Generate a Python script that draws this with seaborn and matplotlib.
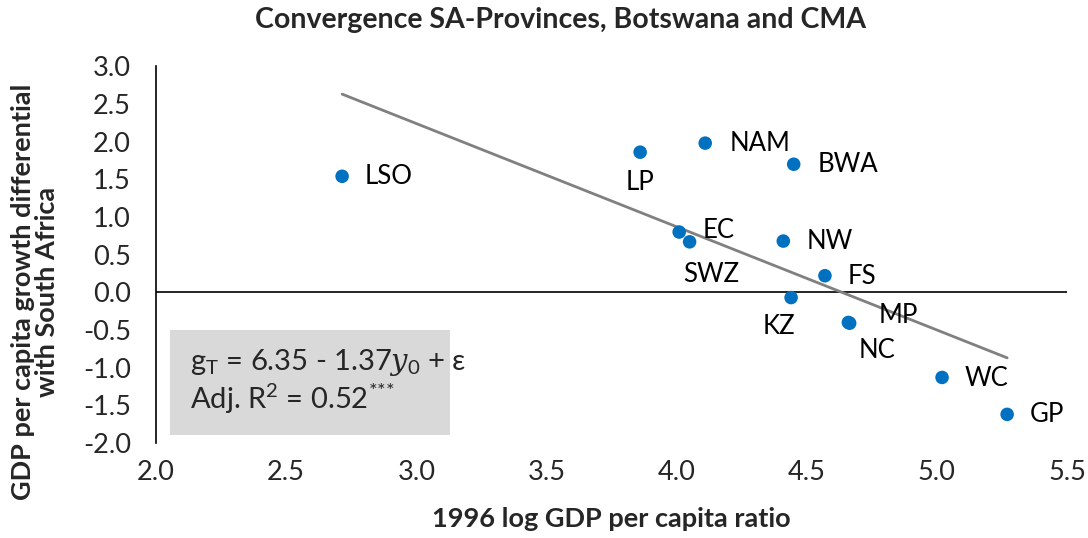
import matplotlib
matplotlib.use("Agg")
import matplotlib.pyplot as plt
import seaborn as sns
import numpy as np
import pandas as pd

# --- Data ---
regions = ["LSO", "LP", "NAM", "BWA", "EC", "SWZ", "NW", "FS", "KZ", "NC", "MP", "WC", "GP"]
log_gdp_1996 = [2.715, 3.86, 4.11, 4.45, 4.01, 4.05, 4.41, 4.57, 4.44, 4.66, 4.665, 5.02, 5.27]
growth_diff = [1.54, 1.86, 1.98, 1.70, 0.80, 0.67, 0.68, 0.22, -0.07, -0.40, -0.41, -1.13, -1.62]

# label offsets in pixels (dx, dy), ha
label_pos = {
    "LSO": (23, 0, "left"), "LP": (0, -30, "center"), "NAM": (24, 0, "left"),
    "BWA": (24, 0, "left"), "EC": (23, 2, "left"), "SWZ": (22, -33, "center"),
    "NW": (23, 0, "left"), "FS": (23, -1, "left"), "KZ": (-12, -29, "center"),
    "NC": (29, -28, "center"), "MP": (29, 8, "left"), "WC": (23, -1, "left"),
    "GP": (23, 0, "left"),
}

intercept = 6.35
slope = -1.37

df = pd.DataFrame({"region": regions, "x": log_gdp_1996, "y": growth_diff})

sns.set_style("white")
plt.rcParams["font.family"] = ["Lato", "DejaVu Sans"]
plt.rcParams["mathtext.fontset"] = "custom"
plt.rcParams["mathtext.rm"] = "Lato"
plt.rcParams["mathtext.it"] = "DejaVu Serif:italic"

fig = plt.figure(figsize=(10.88, 5.38), dpi=100)
ax = fig.add_axes([0.1434, 0.1766, 0.8373, 0.7002])

# --- Trend line ---
xs = np.array([df["x"].min(), df["x"].max()])
ax.plot(xs, intercept + slope * xs, color="#808080", lw=2, zorder=2)

sns.scatterplot(data=df, x="x", y="y", color="#0070C0", s=95, edgecolor="none", ax=ax, zorder=3)

for r, xv, yv in zip(regions, log_gdp_1996, growth_diff):
    dx, dy, ha = label_pos[r]
    ax.annotate(r, (xv, yv), xytext=(dx * 0.72, dy * 0.72), textcoords="offset points",
                ha=ha, va="center", fontsize=18.5, color="#000000")

ax.axhline(0, color="black", lw=1.2, zorder=1)

ax.set_xlim(2.0, 5.5)
ax.set_ylim(-2.0, 3.0)
ax.set_xticks(np.arange(2.0, 5.51, 0.5))
ax.set_yticks(np.arange(-2.0, 3.01, 0.5))
ax.set_xticklabels([f"{v:.1f}" for v in np.arange(2.0, 5.51, 0.5)])
ax.set_yticklabels([f"{v:.1f}" for v in np.arange(-2.0, 3.01, 0.5)])
ax.tick_params(axis="both", labelsize=19.5, length=0)
ax.tick_params(axis="y", pad=18)
ax.tick_params(axis="x", pad=12)

for side in ["top", "right", "bottom"]:
    ax.spines[side].set_visible(False)
ax.spines["left"].set_color("black")
ax.spines["left"].set_linewidth(1.2)

ax.set_xlabel("1996 log GDP per capita ratio", fontsize=19.5, fontweight="bold", labelpad=16)
ax.set_ylabel("GDP per capita growth differential\nwith South Africa", fontsize=19.5,
              fontweight="bold", linespacing=1.0)
ax.yaxis.set_label_coords(-0.107, 0.40)
fig.text(0.515, 0.962, "Convergence SA-Provinces, Botswana and CMA", fontsize=20.5,
         fontweight="bold", ha="center", va="center")

# --- Equation box ---
ax.add_patch(plt.Rectangle((2.054, -1.894), 1.076, 1.394, facecolor="#D9D9D9",
                           edgecolor="none", zorder=1))
ax.text(2.13, -0.93, r"g$_\mathrm{T}$ = 6.35 - 1.37$y_0$ + ε", fontsize=21, va="center", zorder=4)
ax.text(2.13, -1.40, r"Adj. R$^2$ = 0.52$^{{*}{*}{*}}$", fontsize=21, va="center", zorder=4)

fig.savefig("out.png", dpi=100)
